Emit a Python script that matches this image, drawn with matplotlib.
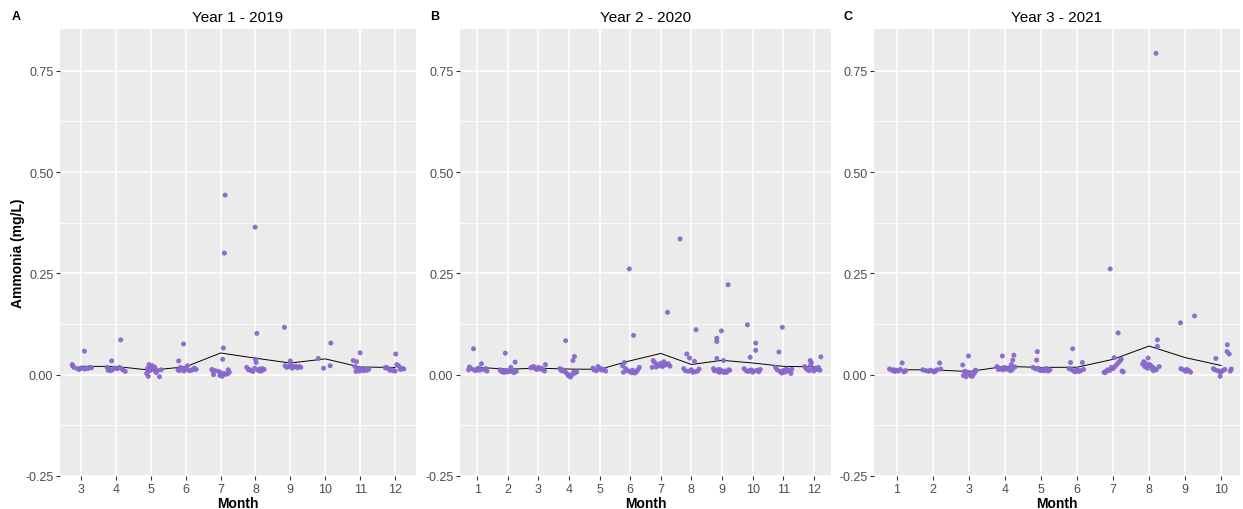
import numpy as np
import matplotlib
matplotlib.use("Agg")
import matplotlib.pyplot as plt
from matplotlib.ticker import FixedLocator

plt.rcParams['font.family'] = ['Liberation Sans', 'DejaVu Sans']

# ---- Ammonia samples (jittered month, mg/L) ----
# Year 1 - 2019
y2019_month = [
    3.10, 2.75, 2.76, 2.80, 2.90, 3.00, 3.10, 3.20, 3.30, 2.95, 3.15, 3.25,
    4.14, 3.88, 3.75, 3.80, 3.90, 3.95, 4.05, 4.10, 4.20, 4.27, 4.00, 3.85, 4.18, 3.78,
    4.95, 5.05, 5.00, 4.90, 5.10, 5.20, 4.92, 5.15, 4.88, 4.93, 5.25, 5.30, 5.02, 5.12, 4.98,
    5.94, 5.80, 6.05, 5.85, 5.90, 5.78, 6.00, 6.10, 6.20, 6.25, 5.95, 6.15, 6.30, 5.82,
    7.13, 7.11, 7.08, 7.06, 6.75, 6.85, 6.95, 7.00, 7.20, 6.80, 7.05, 7.15, 7.25, 7.22, 6.78, 7.10, 6.98,
    7.99, 8.04, 8.00, 8.02, 7.75, 7.80, 7.88, 7.93, 8.08, 8.12, 8.18, 8.25, 7.98, 8.15, 7.85, 8.20, 8.10,
    8.83, 9.00, 8.85, 8.90, 8.95, 9.05, 9.10, 9.15, 9.20, 9.25, 9.30, 9.02,
    9.80, 10.16, 9.95, 10.14,
    11.00, 10.80, 10.90, 10.85, 10.95, 11.05, 11.10, 10.88, 11.15, 11.20, 11.25, 10.98, 11.08,
    12.02, 12.05, 12.10, 11.75, 11.80, 11.90, 11.95, 12.15, 12.20, 12.25, 11.85, 12.00, 11.72,
]
y2019_month_id = [3] * 12 + [4] * 14 + [5] * 15 + [6] * 14 + [7] * 17 + [8] * 17 + [9] * 12 + [10] * 4 + [11] * 13 + [12] * 13
y2019_nh3 = [
    0.058, 0.025, 0.022, 0.018, 0.015, 0.016, 0.014, 0.015, 0.017, 0.013, 0.016, 0.018,
    0.086, 0.034, 0.018, 0.014, 0.012, 0.016, 0.015, 0.018, 0.012, 0.008, 0.016, 0.010, 0.014, 0.011,
    0.025, 0.022, 0.020, 0.015, 0.012, 0.010, 0.008, 0.005, 0.003, -0.004, -0.005, 0.012, 0.015, 0.018, 0.010,
    0.076, 0.034, 0.022, 0.018, 0.015, 0.012, 0.014, 0.010, 0.012, 0.016, 0.009, 0.011, 0.013, 0.010,
    0.443, 0.300, 0.066, 0.038, 0.013, 0.010, 0.008, 0.005, 0.002, 0.000, -0.004, 0.001, 0.006, 0.012, 0.009, 0.003, -0.002,
    0.364, 0.102, 0.038, 0.030, 0.018, 0.012, 0.010, 0.008, 0.011, 0.014, 0.010, 0.013, 0.016, 0.009, 0.012, 0.015, 0.011,
    0.117, 0.034, 0.022, 0.018, 0.020, 0.016, 0.019, 0.021, 0.017, 0.020, 0.018, 0.023,
    0.040, 0.078, 0.016, 0.022,
    0.054, 0.035, 0.032, 0.020, 0.015, 0.012, 0.010, 0.008, 0.013, 0.011, 0.014, 0.009, 0.012,
    0.051, 0.025, 0.022, 0.018, 0.015, 0.012, 0.010, 0.013, 0.016, 0.014, 0.011, 0.009, 0.017,
]

# Year 2 - 2020
y2020_month = [
    0.88, 1.14, 0.75, 0.80, 0.90, 0.95, 1.00, 1.08, 1.20, 1.28, 1.32, 0.72, 1.05,
    1.92, 2.24, 2.10, 1.75, 1.80, 1.85, 1.95, 2.00, 2.05, 2.15, 2.20, 2.28, 1.78, 1.90, 2.12,
    3.23, 2.85, 2.75, 2.90, 3.00, 3.05, 3.10, 3.15, 3.20, 2.95, 2.80,
    3.89, 4.18, 4.13, 3.70, 3.75, 3.85, 3.90, 3.95, 4.00, 4.05, 4.10, 4.20, 4.25, 3.80, 3.98, 4.15,
    4.95, 4.78, 4.85, 4.90, 5.00, 5.08, 5.15, 5.20, 5.05, 4.82,
    5.97, 6.11, 5.81, 5.75, 5.85, 5.90, 6.00, 6.05, 6.15, 6.20, 6.25, 6.30, 5.95, 6.08, 5.78,
    7.63, 7.22, 6.75, 6.80, 6.90, 6.95, 7.00, 7.05, 7.10, 7.15, 7.25, 7.30, 6.85, 7.18, 6.72, 7.08,
    8.15, 7.85, 7.94, 8.10, 7.75, 7.80, 7.90, 8.00, 8.05, 8.20, 8.25, 7.98, 8.12,
    9.20, 8.98, 8.83, 8.83, 8.83, 9.05, 8.72, 8.78, 8.90, 8.95, 9.10, 9.15, 9.25, 9.00, 8.88, 9.08, 8.75, 9.12, 9.22, 8.92,
    9.83, 10.10, 10.10, 9.92, 9.72, 9.78, 9.85, 9.95, 10.00, 10.05, 10.15, 10.20, 10.25, 9.90,
    10.97, 10.86, 10.75, 10.80, 10.90, 10.95, 11.00, 11.05, 11.10, 11.15, 11.20, 11.25, 11.28, 10.92,
    12.23, 11.88, 11.92, 11.70, 11.75, 11.80, 11.85, 11.95, 12.00, 12.05, 12.10, 12.15, 12.20, 11.90,
]
y2020_month_id = [1] * 13 + [2] * 15 + [3] * 11 + [4] * 16 + [5] * 10 + [6] * 15 + [7] * 16 + [8] * 13 + [9] * 20 + [10] * 14 + [11] * 14 + [12] * 14
y2020_nh3 = [
    0.064, 0.027, 0.019, 0.015, 0.012, 0.010, 0.014, 0.011, 0.013, 0.015, 0.009, 0.012, 0.016,
    0.053, 0.031, 0.018, 0.012, 0.008, 0.006, 0.010, 0.007, 0.009, 0.011, 0.005, 0.008, 0.010, 0.006, 0.008,
    0.025, 0.020, 0.017, 0.015, 0.018, 0.014, 0.016, 0.012, 0.009, 0.013, 0.019,
    0.084, 0.045, 0.035, 0.015, 0.010, 0.008, 0.005, 0.002, -0.003, -0.006, 0.000, 0.004, 0.007, 0.012, -0.002, 0.006,
    0.020, 0.016, 0.012, 0.010, 0.014, 0.011, 0.013, 0.009, 0.015, 0.012,
    0.261, 0.097, 0.030, 0.022, 0.015, 0.010, 0.008, 0.005, 0.004, 0.007, 0.012, 0.018, 0.009, 0.011, 0.006,
    0.335, 0.154, 0.035, 0.030, 0.025, 0.022, 0.028, 0.020, 0.032, 0.024, 0.027, 0.021, 0.019, 0.026, 0.018, 0.023,
    0.111, 0.051, 0.041, 0.033, 0.015, 0.010, 0.008, 0.012, 0.006, 0.009, 0.014, 0.011, 0.007,
    0.222, 0.108, 0.090, 0.082, 0.040, 0.035, 0.015, 0.010, 0.007, 0.012, 0.009, 0.006, 0.011, 0.008, 0.013, 0.005, 0.010, 0.008, 0.012, 0.006,
    0.123, 0.078, 0.060, 0.043, 0.015, 0.010, 0.008, 0.012, 0.006, 0.009, 0.011, 0.007, 0.013, 0.010,
    0.117, 0.056, 0.018, 0.012, 0.008, 0.004, 0.010, 0.006, 0.014, 0.009, 0.011, 0.003, 0.013, 0.007,
    0.044, 0.035, 0.030, 0.020, 0.015, 0.012, 0.010, 0.014, 0.009, 0.016, 0.013, 0.018, 0.011, 0.025,
]

# Year 3 - 2021
y2021_month = [
    1.15, 0.80, 0.85, 0.90, 0.95, 1.00, 1.05, 1.10, 1.20, 1.25, 0.92,
    2.19, 1.72, 1.80, 1.88, 1.95, 2.02, 2.08, 2.12, 2.22, 1.90, 2.05,
    2.99, 2.83, 3.18, 2.90, 2.95, 3.02, 2.85, 2.92, 3.05, 3.10, 2.88, 3.15, 3.20, 2.98,
    3.93, 4.25, 4.22, 4.18, 3.78, 3.85, 3.90, 3.98, 4.05, 4.10, 4.12, 4.20, 4.28, 4.02, 3.95, 4.15, 3.82,
    4.90, 4.88, 4.78, 4.85, 4.95, 5.00, 5.05, 5.10, 5.15, 5.20, 5.25, 4.92, 5.08,
    5.88, 5.82, 6.15, 5.78, 5.85, 5.92, 5.98, 6.05, 6.10, 6.18, 5.95, 6.02,
    6.92, 7.14, 7.03, 7.23, 7.20, 7.15, 7.10, 7.05, 7.00, 6.90, 6.80, 6.75, 6.85, 7.25, 7.28, 6.95, 6.78,
    8.19, 8.23, 8.23, 7.97, 7.85, 7.90, 8.00, 8.05, 8.10, 8.15, 8.20, 8.28, 7.82, 8.12, 7.95, 7.88, 8.08, 8.02,
    8.87, 9.26, 8.88, 8.95, 9.02, 9.10, 9.15, 9.05,
    10.17, 10.16, 10.22, 9.85, 9.97, 9.78, 9.82, 9.90, 9.95, 10.05, 10.10, 10.25, 10.28, 10.00,
]
y2021_month_id = [1] * 11 + [2] * 11 + [3] * 14 + [4] * 17 + [5] * 13 + [6] * 12 + [7] * 17 + [8] * 18 + [9] * 8 + [10] * 14
y2021_nh3 = [
    0.029, 0.014, 0.012, 0.010, 0.008, 0.011, 0.009, 0.013, 0.007, 0.010, 0.012,
    0.029, 0.012, 0.010, 0.009, 0.011, 0.008, 0.010, 0.012, 0.014, 0.009, 0.007,
    0.046, 0.024, 0.011, 0.008, 0.005, 0.002, -0.002, -0.005, -0.003, -0.004, 0.008, 0.003, 0.010, 0.006,
    0.046, 0.048, 0.036, 0.025, 0.020, 0.016, 0.014, 0.018, 0.015, 0.013, 0.017, 0.012, 0.019, 0.014, 0.012, 0.010, 0.013,
    0.057, 0.036, 0.018, 0.014, 0.012, 0.010, 0.013, 0.011, 0.015, 0.009, 0.012, 0.016, 0.010,
    0.064, 0.030, 0.030, 0.015, 0.012, 0.009, 0.011, 0.008, 0.010, 0.013, 0.007, 0.012,
    0.261, 0.103, 0.042, 0.038, 0.035, 0.030, 0.025, 0.020, 0.015, 0.010, 0.008, 0.006, 0.012, 0.009, 0.007, 0.018, 0.005,
    0.793, 0.086, 0.070, 0.041, 0.032, 0.028, 0.025, 0.022, 0.018, 0.015, 0.012, 0.020, 0.026, 0.010, 0.016, 0.020, 0.014, 0.024,
    0.128, 0.145, 0.015, 0.012, 0.008, 0.010, 0.006, 0.013,
    0.074, 0.057, 0.051, 0.040, -0.004, 0.015, 0.012, 0.010, 0.008, 0.011, 0.013, 0.009, 0.014, 0.007,
]

panels = [
    ("A", "Year 1 - 2019", y2019_month, y2019_month_id, y2019_nh3, list(range(3, 13))),
    ("B", "Year 2 - 2020", y2020_month, y2020_month_id, y2020_nh3, list(range(1, 13))),
    ("C", "Year 3 - 2021", y2021_month, y2021_month_id, y2021_nh3, list(range(1, 11))),
]

W, H = 1243, 510
fig = plt.figure(figsize=(W / 100, H / 100), dpi=100)
fig.patch.set_facecolor("white")

# panel boxes in pixels: (left, right)
boxes = [(60, 416), (460, 831), (874, 1240)]
top_px, bottom_px = 30, 477
xlims = [(2.40, 12.60), (0.44, 12.56), (0.37, 10.52)]
letter_x = [12, 430, 844]

point_color = "#8968CD"
grey_text = "#4D4D4D"

for i, (letter, title, mx, mid, vals, months) in enumerate(panels):
    l, r = boxes[i]
    ax = fig.add_axes([l / W, 1 - bottom_px / H, (r - l) / W, (bottom_px - top_px) / H])
    ax.set_facecolor("#EBEBEB")
    for s in ax.spines.values():
        s.set_visible(False)

    ax.set_xlim(*xlims[i])
    ax.set_ylim(-0.25, 0.853)

    ax.xaxis.set_major_locator(FixedLocator(months))
    ax.yaxis.set_major_locator(FixedLocator([-0.25, 0.0, 0.25, 0.50, 0.75]))
    ax.yaxis.set_minor_locator(FixedLocator([-0.125, 0.125, 0.375, 0.625]))
    ax.set_yticklabels(["-0.25", "0.00", "0.25", "0.50", "0.75"])
    ax.grid(which="major", color="white", linewidth=1.1)
    ax.grid(which="minor", axis="y", color="white", linewidth=0.55)
    ax.set_axisbelow(True)
    ax.tick_params(which="major", length=2.8, width=0.8, color="#333333",
                   labelcolor=grey_text, labelsize=9, pad=2)
    ax.tick_params(which="minor", length=0)

    # monthly means
    mid_arr = np.array(mid)
    val_arr = np.array(vals)
    means = [val_arr[mid_arr == m].mean() for m in months]
    ax.plot(months, means, color="black", linewidth=0.7, zorder=2)

    ax.scatter(mx, vals, s=13, color=point_color, edgecolors="none", alpha=0.95, zorder=3)

    ax.set_xlabel("Month", fontsize=10, fontweight="bold", labelpad=1)
    if i == 0:
        ax.set_ylabel("Ammonia (mg/L)", fontsize=10, fontweight="bold")
        ax.yaxis.set_label_coords((25 - l) / (r - l), 0.5)
    ax.set_title(title, fontsize=11, pad=6)
    fig.text(letter_x[i] / W, 1 - 17 / H, letter, fontsize=9, fontweight="bold",
             ha="left", va="center")

fig.savefig("out.png", dpi=100)
